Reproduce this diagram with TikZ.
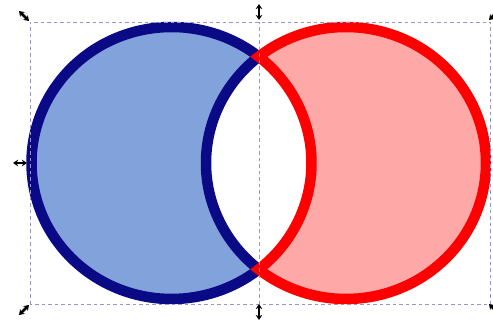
\documentclass[tikz,border=0pt]{standalone}
\usetikzlibrary{arrows.meta}
\definecolor{bluefill}{RGB}{130,162,219}
\definecolor{bluestroke}{RGB}{10,10,135}
\definecolor{redfill}{RGB}{255,168,168}
\definecolor{redstroke}{RGB}{255,0,0}
\definecolor{selcolor}{RGB}{150,150,205}
\tikzset{
  crescent/.style={line width=10.5pt, line join=miter, miter limit=3},
  selline/.style={draw=selcolor, line width=0.9pt, dash pattern=on 3.5pt off 3pt},
  handle/.style={line width=2.8pt, black, {Stealth[length=5pt,width=6.5pt]}-{Stealth[length=5pt,width=6.5pt]}}
}
\begin{document}
\begin{tikzpicture}[x=1pt,y=1pt]
\useasboundingbox (0,0) rectangle (493,322);
\clip (0,0) rectangle (493,322);
\fill[white] (0,0) rectangle (493,322);
\coordinate (B) at (171.5,159);
\coordinate (R) at (346,159);
% blue crescent
\draw[crescent, draw=bluestroke, fill=bluefill] (B) ++(51.45:140pt and 136pt)
  arc[start angle=51.45, end angle=308.55, x radius=140pt, y radius=136pt]
  arc[start angle=231.45, end angle=128.55, x radius=140pt, y radius=136pt] -- cycle;
% red crescent
\draw[crescent, draw=redstroke, fill=redfill] (R) ++(128.55:140pt and 136pt)
  arc[start angle=128.55, end angle=-128.55, x radius=140pt, y radius=136pt]
  arc[start angle=-51.45, end angle=51.45, x radius=140pt, y radius=136pt] -- cycle;
% selection box
\coordinate (s1) at (30,18);
\coordinate (s2) at (490,300);
\draw[selline] (s1) rectangle (s2);
\coordinate (m1) at (259,18);
\coordinate (m2) at (259,300);
\draw[selline] (m1) -- (m2);
% handles
\draw[handle] (19,311) -- (29,301);
\draw[handle] (259,318) -- (259,302);
\draw[handle] (13,159) -- (27,159);
\draw[handle] (19,7) -- (29,17);
\draw[handle] (259,18) -- (259,2);
\draw[handle] (489,302) -- (499,312);
\draw[handle] (489,18) -- (499,8);
\end{tikzpicture}
\end{document}
